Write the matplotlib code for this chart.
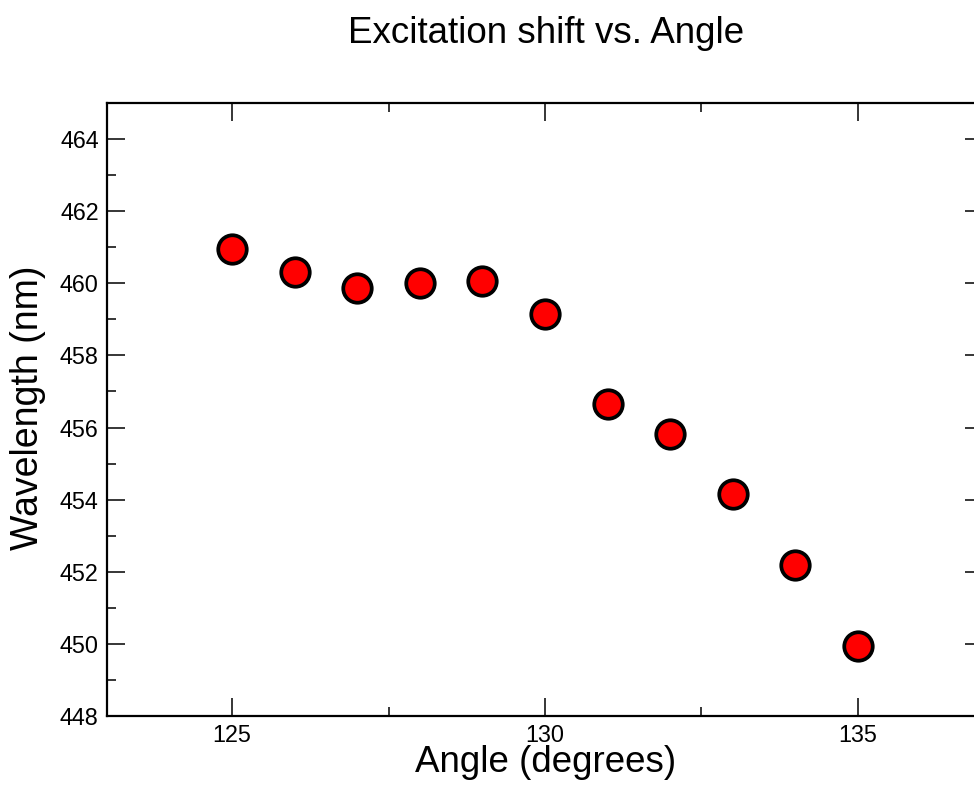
import matplotlib
matplotlib.use("Agg")
import matplotlib.pyplot as plt
from matplotlib.ticker import MultipleLocator

angle = [125, 126, 127, 128, 129, 130, 131, 132, 133, 134, 135]
wavelength = [460.95, 460.32, 459.86, 460.01, 460.05, 459.16, 456.65, 455.82, 454.15, 452.19, 449.94]

title = "Excitation shift vs. Angle"
xlabel = "Angle (degrees)"
ylabel = "Wavelength (nm)"

plt.rcParams['font.family'] = ['Liberation Sans', 'DejaVu Sans']

W, H = 974, 789
fig = plt.figure(figsize=(W / 100, H / 100), dpi=100)
L, R, T, B = 107, 983, 103, 716
ax = fig.add_axes([L / W, (H - B) / H, (R - L) / W, (B - T) / H])

ax.plot(angle, wavelength, linestyle='none', marker='o', markersize=20.5,
        markerfacecolor='#ff0000', markeredgecolor='black', markeredgewidth=2.7,
        clip_on=False, zorder=3)

ax.set_xlim(123, 137)
ax.set_ylim(448, 465)
ax.xaxis.set_major_locator(MultipleLocator(5))
ax.xaxis.set_minor_locator(MultipleLocator(2.5))
ax.yaxis.set_major_locator(MultipleLocator(2))
ax.yaxis.set_minor_locator(MultipleLocator(1))

for s in ax.spines.values():
    s.set_linewidth(1.6)

ax.tick_params(which='both', direction='in', top=True, right=True, width=1.1, colors='black')
ax.tick_params(which='major', length=13, labelsize=16.8, pad=6)
ax.tick_params(which='minor', length=6.5)

fig.text(546 / W, 1 - 43 / H, title, ha='center', va='baseline', fontsize=26.5)
fig.text(546 / W, 1 - 772 / H, xlabel, ha='center', va='baseline', fontsize=26.5)
fig.text(28 / W, 1 - 408 / H, ylabel, ha='center', va='center', rotation=90, fontsize=27)

fig.savefig("out.png", dpi=100)
